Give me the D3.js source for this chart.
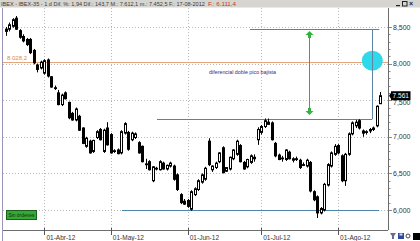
<!DOCTYPE html>
<html><head><meta charset="utf-8">
<script src="https://cdn.jsdelivr.net/npm/d3@7"></script>
<style>html,body{margin:0;padding:0;background:#fff;overflow:hidden}svg{display:block;font-family:"Liberation Sans",Arial,sans-serif}</style>
</head><body><svg id="c" width="420" height="241"></svg>
<script>
// ---------- data ----------
const dates = [
"2012-03-16","2012-03-19","2012-03-20","2012-03-21","2012-03-22","2012-03-23","2012-03-26","2012-03-27","2012-03-28","2012-03-29","2012-03-30",
"2012-04-02","2012-04-03","2012-04-04","2012-04-05","2012-04-10","2012-04-11","2012-04-12","2012-04-13","2012-04-16","2012-04-17","2012-04-18","2012-04-19","2012-04-20","2012-04-23","2012-04-24","2012-04-25","2012-04-26","2012-04-27","2012-04-30",
"2012-05-02","2012-05-03","2012-05-04","2012-05-07","2012-05-08","2012-05-09","2012-05-10","2012-05-11","2012-05-14","2012-05-15","2012-05-16","2012-05-17","2012-05-18","2012-05-21","2012-05-22","2012-05-23","2012-05-24","2012-05-25","2012-05-28","2012-05-29","2012-05-30","2012-05-31",
"2012-06-01","2012-06-04","2012-06-05","2012-06-06","2012-06-07","2012-06-08","2012-06-11","2012-06-12","2012-06-13","2012-06-14","2012-06-15","2012-06-18","2012-06-19","2012-06-20","2012-06-21","2012-06-22","2012-06-25","2012-06-26","2012-06-27","2012-06-28","2012-06-29",
"2012-07-02","2012-07-03","2012-07-04","2012-07-05","2012-07-06","2012-07-09","2012-07-10","2012-07-11","2012-07-12","2012-07-13","2012-07-16","2012-07-17","2012-07-18","2012-07-19","2012-07-20","2012-07-23","2012-07-24","2012-07-25","2012-07-26","2012-07-27","2012-07-30","2012-07-31",
"2012-08-01","2012-08-02","2012-08-03","2012-08-06","2012-08-07","2012-08-08","2012-08-09","2012-08-10","2012-08-13","2012-08-14","2012-08-15","2012-08-16","2012-08-17"];

const open  = [8440,8470,8510,8620,8450,8370,8330,8330,8180,7980,7940, 7870,8050,7820,7670,7600,7440,7600,7470,7320,7230,7280,7120,6870,6940,6800,6990,7100,6800,7120, 7030,6800,6820,6780,7050,7060,6960,6990,6920,6870,6620,6660,6400,6560,6550,6640,6560,6600,6600,6480,6210,6120, 6130,6010,6210,6280,6380,6420,6940,6550,6580,6660,6850,6530,6560,6700,6760,6880,6650,6590,6650,6700,6960, 7060,7140,7170,7190,6910,6750,6700,6690,6790,6680,6700,6680,6620,6600,6650,6250,6180,5960,6000,6340,6600,6760, 6880,6740,6400,6760,7040,7150,7220,7080,7060,7080,7100,7150,7452];
const high  = [8500,8560,8620,8650,8470,8400,8350,8350,8200,8000,8040, 8060,8070,7830,7700,7640,7590,7620,7480,7340,7400,7300,7130,7000,6960,6960,7090,7120,7110,7200, 7050,6830,6840,7090,7200,7080,7070,7060,6940,6880,6700,6680,6600,6590,6680,6660,6620,6660,6620,6500,6230,6150, 6150,6270,6310,6420,6500,6590,6980,6610,6660,6790,6870,6580,6730,6830,6960,6900,6670,6700,6760,6760,7130, 7160,7250,7250,7210,6930,6770,6740,6830,6810,6720,6730,6700,6650,6700,6670,6270,6200,6040,6370,6640,6800,6900, 6900,6760,6780,7060,7210,7230,7240,7100,7090,7120,7140,7430,7612];
const low   = [8380,8440,8490,8460,8340,8290,8240,8130,7990,7880,7920, 7850,7810,7670,7640,7430,7420,7510,7240,7220,7210,7080,6900,6850,6770,6780,6970,6950,6780,6880, 6770,6780,6760,6760,7030,6810,6940,6970,6770,6650,6560,6540,6380,6540,6540,6550,6540,6580,6400,6260,6080,6070, 6030,5990,6190,6260,6360,6400,6600,6520,6560,6640,6500,6520,6540,6680,6740,6650,6550,6570,6630,6660,6890, 7030,7120,7160,6950,6720,6680,6660,6670,6690,6650,6670,6560,6600,6580,6240,6120,5890,5940,5980,6320,6580,6740, 6760,6380,6330,6740,7020,7120,7100,7000,7030,7050,7080,7130,7452];
const close = [8470,8530,8600,8470,8360,8310,8260,8150,8010,7920,8020, 8040,7830,7680,7660,7440,7570,7520,7260,7230,7380,7090,6910,6980,6780,6950,7070,6960,7090,6890, 6780,6810,6770,7070,7180,6830,7050,7040,6780,6660,6630,6550,6590,6570,6660,6560,6610,6640,6420,6280,6100,6080, 6050,6250,6290,6400,6480,6570,6620,6600,6640,6780,6510,6580,6720,6820,6940,6660,6560,6690,6740,6720,7100, 7140,7220,7200,6960,6740,6690,6710,6820,6700,6700,6690,6580,6610,6680,6260,6140,5960,6020,6350,6620,6780,6870, 6780,6400,6760,7040,7190,7200,7120,7050,7070,7100,7120,7417,7561];

const yTicks = [6000,6500,7000,7500,8000,8500];
const yTickLabels = ["6,000","6,500","7,000","7,500","8,000","8,500"];
const monthTicks = ["2012-04-02","2012-05-02","2012-06-01","2012-07-02","2012-08-01"];
const monthLabels = ["01-Abr-12","01-May-12","01-Jun-12","01-Jul-12","01-Ago-12"];

const titleText = "IBEX - IBEX-35 - 1 d Dif. %: 1,94 Dif.: 143,7 M.: 7.612,1 m.: 7.452,5 F.: 17-08-2012";
const titleRed = "F.: 6.111,4";
const refLevel = 8028.2, refLabel = "8.028,2";
const lastPrice = 7561, lastLabel = "7.561";
// trend-line annotations (price level, start/end in trading-day index)
const hLines = [
  {level: 8468, from: 69.8, to: 106.8},
  {level: 7243, from: 43.2, to: 104.8},
  {level: 6000, from: 33.2, to: 106.8}
];
const vLine = {at: 104.8, from: 8468, to: 7243};
const arrow = {at: 86.8, top: 8445, bottom: 7298};
const circle = {at: 104.8, level: 8040};
const noteText = "diferencial doble pico bajista";
const note = {at: 58.1, level: 7858};
const ordersText = "Sin órdenes";

// ---------- scales ----------
const svg = d3.select("#c");
const W = 420, H = 241;
const plotL = 3, plotR = 388, plotT = 8, plotB = 230;
const x = d3.scalePoint().domain(dates).range([6, 380]);
const xi = d3.scaleLinear().domain([0, dates.length - 1]).range([6, 380]);
const y = d3.scaleLinear().domain([6000, 8500]).range([210, 27]);

// fit a text to a width by adjusting font size
function fitText(sel, width, base) {
  const n = sel.node();
  const w = n.getComputedTextLength();
  if (w > 0) sel.attr("font-size", (base * width / w).toFixed(2));
  return sel;
}

svg.append("rect").attr("width", W).attr("height", H).attr("fill", "#fff");

// grid
const g = svg.append("g");
g.selectAll("line.hg").data(yTicks).enter().append("line")
  .attr("x1", plotL).attr("x2", plotR)
  .attr("y1", d => Math.round(y(d)) + 0.5).attr("y2", d => Math.round(y(d)) + 0.5)
  .attr("stroke", "#b8b8b8").attr("stroke-dasharray", "1,2");
g.selectAll("line.vg").data(monthTicks).enter().append("line")
  .attr("x1", d => Math.round(x(d)) + 0.5).attr("x2", d => Math.round(x(d)) + 0.5)
  .attr("y1", plotT).attr("y2", plotB)
  .attr("stroke", "#b8b8b8").attr("stroke-dasharray", "1,2");

// reference orange line
svg.append("line").attr("x1", plotL).attr("x2", plotR)
  .attr("y1", Math.round(y(refLevel)) + 0.5).attr("y2", Math.round(y(refLevel)) + 0.5)
  .attr("stroke", "#e6a57c").attr("stroke-width", 1);
svg.append("text").attr("x", 7).attr("y", y(refLevel) - 2).attr("font-size", 6)
  .attr("fill", "#d88a55").text(refLabel);

// horizontal trend lines
svg.selectAll("line.tl").data(hLines).enter().append("line")
  .attr("x1", d => xi(d.from)).attr("x2", d => xi(d.to))
  .attr("y1", d => Math.round(y(d.level)) + 0.5).attr("y2", d => Math.round(y(d.level)) + 0.5)
  .attr("stroke", "#4f86ad").attr("stroke-width", 1);

// candles
const data = dates.map((d, i) => ({d, o: open[i], h: high[i], l: low[i], c: close[i]}));
const cg = svg.append("g");
cg.selectAll("line.w").data(data).enter().append("line")
  .attr("x1", d => Math.round(x(d.d)) + 0.5).attr("x2", d => Math.round(x(d.d)) + 0.5)
  .attr("y1", d => y(d.h)).attr("y2", d => y(d.l))
  .attr("stroke", "#000").attr("stroke-width", 1);
cg.selectAll("rect.b").data(data).enter().append("rect")
  .attr("x", d => Math.round(x(d.d)) - 0.5)
  .attr("width", 2)
  .attr("y", d => y(Math.max(d.o, d.c)))
  .attr("height", d => Math.max(0.8, Math.abs(y(d.o) - y(d.c))))
  .attr("fill", d => d.c >= d.o ? "#fff" : "#000")
  .attr("stroke", "#000").attr("stroke-width", 1);

// cyan circle + vertical measure line
svg.append("ellipse").attr("cx", xi(circle.at)).attr("cy", y(circle.level))
  .attr("rx", 10.5).attr("ry", 10).attr("fill", "#2fd9ea");
svg.append("line").attr("x1", Math.round(xi(vLine.at)) + 0.5).attr("x2", Math.round(xi(vLine.at)) + 0.5)
  .attr("y1", y(vLine.from)).attr("y2", y(vLine.to))
  .attr("stroke", "#5d86a6").attr("stroke-width", 1);

// green double arrow
const ax = Math.round(xi(arrow.at)) + 0.5;
svg.append("line").attr("x1", ax).attr("x2", ax)
  .attr("y1", y(arrow.top) + 4).attr("y2", y(arrow.bottom) - 4)
  .attr("stroke", "#5d86a6").attr("stroke-width", 1);
const ty = y(arrow.top), by = y(arrow.bottom);
svg.append("path").attr("fill", "#33b33d")
  .attr("d", `M${ax},${ty} L${ax+4},${ty+4} L${ax+1.5},${ty+4} L${ax+1.5},${ty+7} L${ax-1.5},${ty+7} L${ax-1.5},${ty+4} L${ax-4},${ty+4} Z`);
svg.append("path").attr("fill", "#33b33d")
  .attr("d", `M${ax},${by} L${ax+4},${by-4} L${ax+1.5},${by-4} L${ax+1.5},${by-7} L${ax-1.5},${by-7} L${ax-1.5},${by-4} L${ax-4},${by-4} Z`);

fitText(svg.append("text").attr("x", xi(note.at)).attr("y", y(note.level))
  .attr("font-size", 6).attr("fill", "#1f2f8a").text(noteText), 67, 6);

// axes frame
svg.append("line").attr("x1", plotR + 0.5).attr("x2", plotR + 0.5).attr("y1", plotT).attr("y2", plotB)
  .attr("stroke", "#6c6c6c");
svg.append("line").attr("x1", plotL).attr("x2", plotR).attr("y1", plotB + 0.5).attr("y2", plotB + 0.5)
  .attr("stroke", "#6c6c6c");
svg.append("line").attr("x1", 2.5).attr("x2", 2.5).attr("y1", plotT).attr("y2", H)
  .attr("stroke", "#9a94b8");

// y axis ticks and labels (right)
const minor = d3.range(6000, 8501, 100);
svg.selectAll("line.mt").data(minor).enter().append("line")
  .attr("x1", plotR + 1).attr("x2", d => plotR + (d % 500 === 0 ? 4 : 2.5))
  .attr("y1", d => Math.round(y(d)) + 0.5).attr("y2", d => Math.round(y(d)) + 0.5)
  .attr("stroke", "#8a8a8a");
svg.selectAll("text.yl").data(yTicks).enter().append("text")
  .attr("x", 393).attr("y", d => y(d) + (d === 7500 ? 4.5 : 2.5)).attr("font-size", 7).attr("fill", "#333")
  .text((d, i) => yTickLabels[i]);

// x axis ticks and labels
svg.selectAll("line.xt").data(monthTicks).enter().append("line")
  .attr("x1", d => Math.round(x(d)) + 0.5).attr("x2", d => Math.round(x(d)) + 0.5)
  .attr("y1", plotB - 2).attr("y2", plotB + 5).attr("stroke", "#555");
svg.selectAll("text.xl").data(monthTicks).enter().append("text")
  .attr("x", d => x(d) + 2).attr("y", 240).attr("font-size", 6.5).attr("fill", "#333")
  .text((d, i) => monthLabels[i]);

// last price box
const ly = y(lastPrice);
svg.append("path").attr("d", `M${plotR+1},${ly} L${391},${ly-3} L${391},${ly+3} Z`).attr("fill", "#000");
svg.append("rect").attr("x", 391).attr("y", ly - 4.5).attr("width", 19.5).attr("height", 9).attr("fill", "#000");
fitText(svg.append("text").attr("x", 392.5).attr("y", ly + 2.6).attr("font-size", 7).attr("fill", "#fff")
  .text(lastLabel), 16.5, 7);

// orders box
svg.append("rect").attr("x", 6.5).attr("y", 210.5).attr("width", 30).attr("height", 9)
  .attr("fill", "#35a835").attr("stroke", "#1d5e1d");
fitText(svg.append("text").attr("x", 8.5).attr("y", 217.3).attr("font-size", 5.5).attr("fill", "#0b2f0b")
  .text(ordersText), 26, 5.5);

// title bar
svg.append("rect").attr("x", 0).attr("y", 0).attr("width", W).attr("height", 7.5).attr("fill", "#d7d5d0");
fitText(svg.append("text").attr("x", 1).attr("y", 6).attr("font-size", 6).attr("fill", "#3a3a3a")
  .text(titleText), 204, 6);
fitText(svg.append("text").attr("x", 208).attr("y", 6).attr("font-size", 6).attr("fill", "#c0392b")
  .text(titleRed), 28, 6);
// window buttons
svg.append("rect").attr("x", 396).attr("y", 5).attr("width", 4).attr("height", 1.2).attr("fill", "#222");
svg.append("rect").attr("x", 402.5).attr("y", 1.5).attr("width", 4.5).attr("height", 4.5).attr("fill", "none").attr("stroke", "#222");
svg.append("text").attr("x", 409).attr("y", 6.3).attr("font-size", 7).attr("font-weight", "bold").attr("fill", "#222").text("×");

// bottom-right toolbar icons
svg.append("path").attr("d", "M390,233 L396,233 L394,236 L394,239 L392,239 L392,236 Z").attr("fill", "#6a6a8a");
svg.append("rect").attr("x", 398).attr("y", 233).attr("width", 6).attr("height", 6).attr("fill", "#2c4aa0");
svg.append("rect").attr("x", 399.5).attr("y", 233.5).attr("width", 3).attr("height", 2).attr("fill", "#cfd8f0");
svg.append("circle").attr("cx", 408).attr("cy", 236).attr("r", 2).attr("fill", "none").attr("stroke", "#444");
svg.append("rect").attr("x", 413).attr("y", 233).attr("width", 7).attr("height", 7).attr("fill", "#000");
</script></body></html>
